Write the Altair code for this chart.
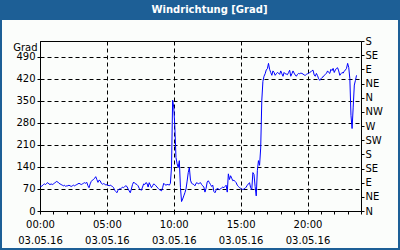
import altair as alt
import pandas as pd

# wind direction in degrees, 5-minute samples, 03.05.16
dir_00_05 = [
    80, 78, 80, 84, 86, 84, 88, 90, 86, 84, 86, 84,
    86, 88, 92, 94, 92, 88, 86, 84, 82, 80, 82, 78,
    80, 80, 82, 80, 78, 80, 82, 80, 82, 84, 86, 88,
    86, 84, 86, 88, 90, 88, 91, 80, 74, 86, 94, 98,
    100, 104, 109, 100, 91, 98, 96, 88, 85, 87, 86, 82,
    84, 82, 80, 82, 80, 78, 74, 66, 62, 58, 66, 70,
]
dir_06_11 = [
    70, 72, 76, 74, 78, 80, 78, 70, 64, 58, 70, 84,
    92, 88, 86, 84, 80, 72, 68, 66, 76, 86, 84, 90,
    88, 76, 90, 82, 74, 80, 86, 84, 80, 76, 72, 68,
    66, 64, 74, 88, 84, 82, 84, 84, 82, 88, 140, 352,
    330, 265, 170, 150, 138, 160, 75, 30, 38, 48, 58, 70,
    95, 122, 138, 98, 88, 86, 84, 80, 88, 90, 86, 88,
]
dir_12_17 = [
    90, 84, 80, 76, 60, 72, 92, 96, 90, 84, 78, 82,
    62, 58, 66, 72, 70, 68, 70, 74, 76, 74, 78, 82,
    60, 118, 100, 112, 104, 96, 98, 94, 90, 82, 78, 74,
    72, 70, 68, 70, 72, 76, 82, 86, 90, 74, 68, 122,
    116, 78, 48, 128, 160, 145, 200, 352, 412, 428, 436, 448,
    452, 469, 450, 440, 431, 445, 440, 431, 436, 440, 438, 434,
]
dir_18_23 = [
    445, 436, 428, 440, 436, 435, 433, 440, 447, 428, 436, 445,
    438, 432, 428, 434, 437, 436, 438, 437, 435, 432, 431, 434,
    436, 437, 440, 442, 446, 447, 432, 428, 437, 430, 420, 415,
    420, 424, 426, 431, 434, 437, 445, 440, 437, 450, 446, 453,
    440, 448, 453, 455, 445, 431, 436, 440, 438, 444, 448, 453,
    469, 456, 420, 304, 262, 330, 400, 415, 431,
]
direction = dir_00_05 + dir_06_11 + dir_12_17 + dir_18_23
hours = [i * 5 / 60 for i in range(len(direction))]

title_text = "Windrichtung [Grad]"
y_title = "Grad"
left_ticks = [0, 70, 140, 210, 280, 350, 420, 490]
right_ticks = [0, 45, 90, 135, 180, 225, 270, 315, 360, 405, 450, 495, 540]
right_labels = ["N", "NE", "E", "SE", "S", "SW", "W", "NW", "N", "NE", "E", "SE", "S"]
x_label_hours = [0, 5, 10, 15, 20]
x_time_labels = ["00:00", "05:00", "10:00", "15:00", "20:00"]
x_date_label = "03.05.16"
x_minor_ticks = list(range(25))

df = pd.DataFrame({"h": hours, "v": direction})

FONT = "DejaVu Sans"
BLUE = "#1d5f96"

# label expressions built from the lists
xexpr = "''"
for hh, lab in reversed(list(zip(x_label_hours, x_time_labels))):
    xexpr = f"datum.value === {hh} ? ['{lab}', '{x_date_label}'] : ({xexpr})"
rexpr = "[" + ",".join(f"'{s}'" for s in right_labels) + "][round(datum.value / 45)]"
grid_test = " || ".join(f"datum.value === {hh}" for hh in x_label_hours)

xscale = alt.Scale(domain=[0, 24], nice=False, zero=False)
yscale = alt.Scale(domain=[0, 540], nice=False, zero=True)

x_axis = alt.Axis(
    values=x_minor_ticks, labelExpr=xexpr, title=None,
    tickSize=3, tickColor="black", domainColor="black",
    grid=True, gridColor="black", gridDash=[4, 3],
    gridOpacity={"condition": {"test": grid_test, "value": 1}, "value": 0},
    labelFont=FONT, labelFontSize=10, labelColor="black",
    labelPadding=5, labelLineHeight=16, labelFlush=False,
    labelOverlap=False, labelBound=False,
)
y_axis = alt.Axis(
    values=left_ticks, title=y_title, titleAngle=0, titleX=-3, titleY=6,
    titleAlign="right", titleBaseline="middle", titleFont=FONT,
    titleFontSize=10, titleFontWeight="normal", titleColor="black",
    tickSize=3, tickColor="black", domainColor="black",
    grid=True, gridColor="black", gridDash=[4, 3],
    labelFont=FONT, labelFontSize=10, labelColor="black", labelPadding=2,
    labelFlush=False, labelOverlap=False,
)
r_axis = alt.Axis(
    orient="right", values=right_ticks, labelExpr=rexpr, title=None,
    tickSize=3, tickColor="black", domainColor="black", grid=False,
    labelFont=FONT, labelFontSize=10, labelColor="black", labelPadding=1,
    labelFlush=False, labelOverlap=False, labelBaseline="middle",
)

line = alt.Chart(df).mark_line(color="#0000ff", strokeWidth=1, clip=True).encode(
    x=alt.X("h:Q", scale=xscale, axis=x_axis),
    y=alt.Y("v:Q", scale=yscale, axis=y_axis),
)
right = alt.Chart(df).mark_point(opacity=0).encode(
    x=alt.X("h:Q", scale=xscale, axis=x_axis),
    y=alt.Y("v:Q", scale=yscale, axis=r_axis),
)

one = alt.Data(values=[{"a": 1}])
title_bar = alt.Chart(one).mark_rect(color=BLUE).encode(
    x=alt.value(-40), x2=alt.value(360), y=alt.value(-41), y2=alt.value(-21)
)
title_lbl = alt.Chart(one).mark_text(
    font=FONT, fontSize=10, fontWeight="bold", color="white",
    align="center", baseline="middle",
).encode(x=alt.value(169.5), y=alt.value(-31), text=alt.value(title_text))
frame = alt.Chart(one).mark_rect(fillOpacity=0, stroke=BLUE, strokeWidth=2).encode(
    x=alt.value(-39), x2=alt.value(359), y=alt.value(-40), y2=alt.value(208)
)

chart = alt.layer(line, right, title_bar, title_lbl, frame).resolve_axis(
    y="independent"
).properties(
    width=321, height=170,
    autosize=alt.AutoSizeParams(type="none"),
    padding={"left": 40, "top": 41, "right": 39, "bottom": 39},
    background="#fbfdfb",
).configure_view(stroke="black", strokeWidth=1)

chart.save("out.html", embed_options={"renderer": "svg", "actions": False})
